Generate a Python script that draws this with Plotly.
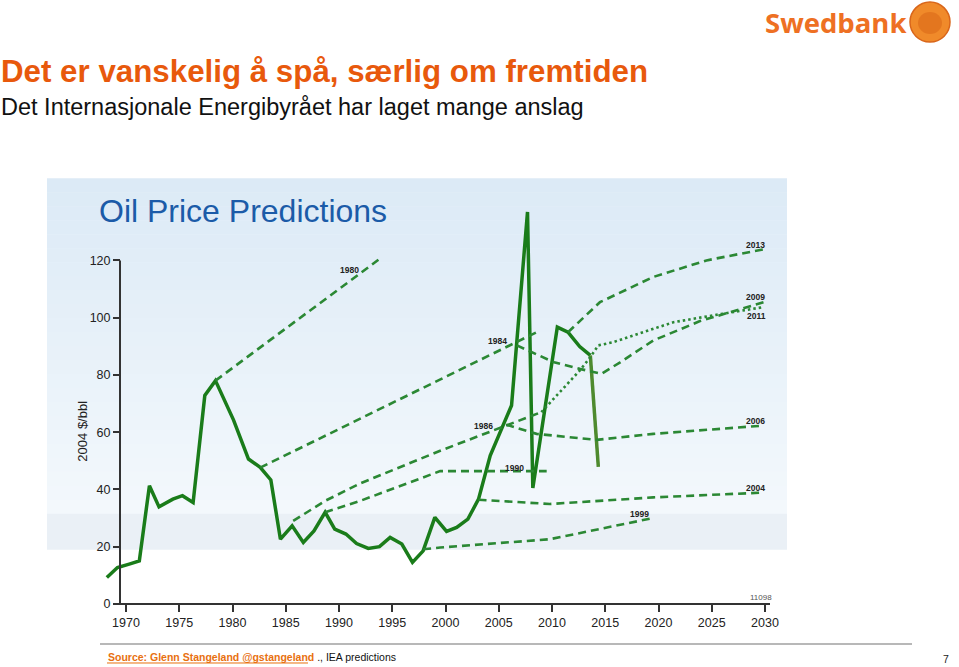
import plotly.graph_objects as go

# ---------------- data ----------------
hist_years = [1968.2, 1969.2, 1970.3, 1971.25, 1972.2, 1973.1, 1974.4, 1975.3, 1976.3,
              1977.4, 1978.4, 1980.1, 1981.5, 1982.6, 1983.6, 1984.5, 1985.6, 1986.65,
              1987.65, 1988.7, 1989.6, 1990.65, 1991.65, 1992.75, 1993.8, 1994.8, 1995.9,
              1996.9, 1997.9, 1999.0, 2000.1, 2001.05, 2002.1, 2003.1, 2004.2, 2005.3,
              2006.2, 2007.7, 2008.2, 2010.5, 2011.5, 2012.6, 2013.6]
hist_prices = [9.2, 12.7, 13.9, 15.0, 41.3, 33.9, 36.6, 37.8, 35.4,
               72.8, 78.0, 64.2, 50.6, 47.7, 43.3, 22.6, 27.3, 21.5,
               25.5, 32.0, 26.1, 24.4, 21.1, 19.4, 20.0, 23.2, 20.9,
               14.5, 18.5, 30.2, 25.3, 26.7, 29.6, 36.6, 51.8, 61.7,
               69.3, 136.9, 40.5, 96.7, 94.9, 89.9, 86.8]
recent_years = [2013.6, 2014.35]
recent_prices = [86.8, 47.9]

f1980_x = [1978.4, 1993.7]
f1980_y = [78.0, 120.2]
f1984_x = [1982.6, 2008.55]
f1984_y = [47.6, 94.9]
f1986_x = [1985.7, 1988.7, 1992.0, 1999.5, 2009.0]
f1986_y = [29.0, 36.0, 42.1, 53.5, 67.0]
f1990_x = [1988.7, 1992.0, 1999.5, 2009.5]
f1990_y = [32.0, 36.0, 46.4, 46.4]
f1999_x = [1997.9, 1999.5, 2009.8, 2019.5]
f1999_y = [19.1, 19.7, 22.6, 30.0]
f2004_x = [2003.1, 2009.8, 2019.5, 2029.9]
f2004_y = [36.4, 34.9, 37.2, 38.9]
f2006_x = [2005.7, 2008.55, 2014.2, 2019.5, 2029.9]
f2006_y = [62.6, 59.4, 57.3, 59.4, 62.3]
f2009_x = [2006.7, 2010.2, 2012.6, 2014.65, 2016.4, 2019.5, 2023.9, 2029.9]
f2009_y = [90.3, 84.4, 82.1, 80.4, 84.4, 92.0, 98.8, 105.4]
f2011_x = [2009.0, 2010.75, 2012.6, 2013.6, 2014.35, 2015.7, 2021.4, 2026.1, 2029.9]
f2011_y = [67.0, 73.9, 81.5, 86.2, 90.3, 91.4, 98.4, 101.4, 103.7]
f2013_x = [2011.5, 2014.5, 2019.5, 2024.5, 2029.9]
f2013_y = [94.9, 105.4, 114.2, 120.0, 123.9]

x_ticks = [1970, 1975, 1980, 1985, 1990, 1995, 2000, 2005, 2010, 2015, 2020, 2025, 2030]
y_ticks = [0, 20, 40, 60, 80, 100, 120]

forecast_labels = ["1980", "1984", "1986", "1990", "1999", "2004", "2006", "2009", "2011", "2013"]
label_x = [1991.0, 2004.9, 2003.6, 2006.5, 2018.2, 2029.1, 2029.1, 2029.1, 2029.2, 2029.1]
label_y = [116.5, 91.7, 62.3, 47.6, 31.5, 40.6, 64.0, 107.1, 100.4, 125.3]

# ---------------- figure ----------------
W, H = 959, 667          # design size (reference pixels)
FIG_H = 675              # browser viewport height; photo is squeezed to 667
FONT = "Liberation Sans, Arial, sans-serif"
PRICE_C = "#1A7C1A"
FC_C = "#2B8834"
OLIVE_C = "#4E8A2E"


def pxx(x):
    return x / W


def pxy(y):
    return 1 - y / H


fig = go.Figure()

fig.add_trace(go.Scatter(x=hist_years, y=hist_prices, mode="lines",
                         line=dict(color=PRICE_C, width=3.5), hoverinfo="skip"))
fig.add_trace(go.Scatter(x=recent_years, y=recent_prices, mode="lines",
                         line=dict(color=OLIVE_C, width=3.5), hoverinfo="skip"))

dashed = [(f1980_x, f1980_y), (f1984_x, f1984_y), (f1986_x, f1986_y), (f1990_x, f1990_y),
          (f1999_x, f1999_y), (f2004_x, f2004_y), (f2006_x, f2006_y), (f2009_x, f2009_y),
          (f2013_x, f2013_y)]
for xs, ys in dashed:
    fig.add_trace(go.Scatter(x=xs, y=ys, mode="lines",
                             line=dict(color=FC_C, width=2.6, dash="8px,5px"),
                             hoverinfo="skip"))
fig.add_trace(go.Scatter(x=f2011_x, y=f2011_y, mode="lines",
                         line=dict(color=FC_C, width=2.6, dash="2.5px,3px"),
                         hoverinfo="skip"))

# background of embedded chart image (vertical gradient by strips)
shapes = []
top, bot = 178, 513
c0 = (0xDC, 0xEA, 0xF6)
c1 = (0xF3, 0xF8, 0xFC)
n = 24
for i in range(n):
    t = i / (n - 1)
    c = tuple(int(round(c0[k] + (c1[k] - c0[k]) * t)) for k in range(3))
    y0 = top + (bot - top) * i / n
    y1 = top + (bot - top) * (i + 1) / n
    shapes.append(dict(type="rect", xref="paper", yref="paper",
                       x0=pxx(47), x1=pxx(787), y0=pxy(y1 + 0.5), y1=pxy(y0),
                       fillcolor="rgb(%d,%d,%d)" % c, line=dict(width=0), layer="below"))
shapes.append(dict(type="rect", xref="paper", yref="paper",
                   x0=pxx(47), x1=pxx(787), y0=pxy(549), y1=pxy(513),
                   fillcolor="#EAF0F6", line=dict(width=0), layer="below"))
# axis lines
shapes.append(dict(type="line", xref="paper", yref="paper",
                   x0=pxx(120), x1=pxx(770), y0=pxy(603), y1=pxy(603),
                   line=dict(color="#333333", width=2)))
shapes.append(dict(type="line", xref="paper", yref="y",
                   x0=pxx(120), x1=pxx(120), y0=0, y1=120,
                   line=dict(color="#333333", width=2)))
# footer rule and underline
shapes.append(dict(type="line", xref="paper", yref="paper",
                   x0=pxx(100), x1=pxx(912), y0=pxy(643), y1=pxy(643),
                   line=dict(color="#A0A0A0", width=1.5)))
shapes.append(dict(type="line", xref="paper", yref="paper",
                   x0=pxx(107), x1=pxx(308), y0=pxy(662), y1=pxy(662),
                   line=dict(color="#E8700F", width=1)))
# logo circle
shapes.append(dict(type="circle", xref="paper", yref="paper",
                   x0=pxx(910), x1=pxx(950), y0=pxy(42), y1=pxy(2),
                   fillcolor="#F08A2A", line=dict(color="#D9661A", width=1.5)))
shapes.append(dict(type="circle", xref="paper", yref="paper",
                   x0=pxx(918), x1=pxx(942), y0=pxy(34), y1=pxy(12),
                   fillcolor="#E3761F", line=dict(width=0)))

annotations = []
for t, xv, yv in zip(forecast_labels, label_x, label_y):
    annotations.append(dict(x=xv, y=yv, xref="x", yref="y", text="<b>%s</b>" % t,
                            showarrow=False, font=dict(family=FONT, size=8.5, color="#222222")))
annotations.append(dict(x=2029.6, y=2.4, xref="x", yref="y", text="11098", showarrow=False,
                        font=dict(family=FONT, size=8, color="#555555")))


def ann(x, y, text, size, color, xanchor="left", bold=False, angle=0, family=FONT):
    annotations.append(dict(x=pxx(x), y=pxy(y), xref="paper", yref="paper",
                            text=("<b>%s</b>" % text) if bold else text,
                            showarrow=False, xanchor=xanchor, yanchor="middle",
                            textangle=angle,
                            font=dict(family=family, size=size, color=color)))


ann(-1, 71, "Det er vanskelig å spå, særlig om fremtiden", 31.3, "#E8590C", bold=True)
ann(-1, 107, "Det Internasjonale Energibyrået har laget mange anslag", 23.5, "#111111")
ann(97, 211, "Oil Price Predictions", 32, "#1B5BA8")
ann(83, 431, "2004 $/bbl", 13, "#222222", xanchor="center", angle=-90)
ann(763, 22, "Swedbank", 27.5, "#EE7023", family="Open Sans, sans-serif", bold=True)
ann(106, 656.5, "<b>Source: Glenn Stangeland @gstangeland </b><span style='color:#111111'>., IEA predictions</span>",
    10.5, "#E8700F")
ann(946, 658, "7", 10.5, "#222222", xanchor="center")

fig.update_layout(
    width=W, height=FIG_H,
    margin=dict(l=0, r=0, t=0, b=0),
    paper_bgcolor="white", plot_bgcolor="rgba(0,0,0,0)",
    showlegend=False,
    shapes=shapes, annotations=annotations,
    xaxis=dict(domain=[pxx(95), pxx(800)], range=[1967.089, 2033.286],
               tickvals=x_ticks, ticks="outside", ticklen=7, tickwidth=1.5,
               tickcolor="#333333", showgrid=False, zeroline=False, showline=False,
               tickfont=dict(family=FONT, size=12.5, color="#222222")),
    yaxis=dict(domain=[pxy(603), pxy(200)], range=[0, 140.99],
               anchor="free", position=pxx(120),
               tickvals=y_ticks, ticks="outside", ticklen=7, tickwidth=1.5,
               tickcolor="#333333", showgrid=False, zeroline=False, showline=False,
               tickfont=dict(family=FONT, size=12.5, color="#222222")),
)

page_css = ("var s='margin:0;padding:0;overflow:hidden;';"
            "document.documentElement.style.cssText=s;document.body.style.cssText=s;")
fig.write_html(
    "out.html",
    config={"responsive": False, "displayModeBar": False},
    post_script=page_css,
)
